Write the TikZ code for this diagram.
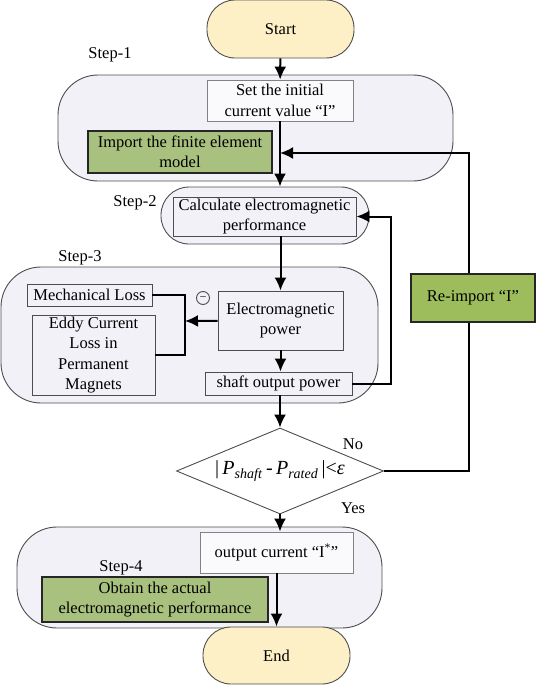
\documentclass[tikz,border=0pt]{standalone}
\usepackage{fontspec}
\setmainfont{Liberation Serif}
\usetikzlibrary{positioning,arrows.meta,calc,shapes.geometric}
\definecolor{termfill}{HTML}{FDF0C6}
\definecolor{groupfill}{HTML}{F2F1F8}
\definecolor{keyfill}{HTML}{A9C17E}
\definecolor{loopfill}{HTML}{9DBD5C}
\definecolor{edge}{HTML}{4D4D4D}
\tikzset{
    x=1pt,
    y=-1pt,
    font=\fontsize{16.5}{20.5}\selectfont,
    group/.style = {
        draw=edge,
        fill=groupfill,
        line width=0.9pt,
        rounded corners=40pt
    },
    block/.style = {
        draw=edge,
        fill=groupfill,
        shape=rectangle,
        align=center,
        inner sep=0pt,
        line width=0.9pt
    },
    light/.style = {
        block,
        draw=edge!70,
        fill=white!60!groupfill
    },
    keybox/.style = {
        block,
        draw=black!85,
        fill=keyfill,
        line width=1.6pt
    },
    terminal/.style = {
        block,
        fill=termfill,
        rounded corners=28pt
    },
    decision/.style = {
        draw=edge,
        fill=white,
        shape=diamond,
        inner sep=0pt,
        line width=0.9pt
    },
    steplabel/.style = {
        inner sep=0pt
    },
    link/.style = {
        draw,
        line width=2pt
    },
    >={Latex[length=13pt,width=12pt]},
}

\begin{document}
\begin{tikzpicture}
                \useasboundingbox (0,0) rectangle (536,685);

                \node[group, minimum width=395, minimum height=106] (step1) at (255.5,128) {};
                \node[group, rounded corners=28pt, minimum width=208, minimum height=57] (step2) at (265,215.5) {};
                \node[group, minimum width=377, minimum height=136] (step3) at (189.5,335) {};
                \node[group, minimum width=365, minimum height=101] (step4) at (199.5,577.5) {};

                \node[steplabel] (step1lbl) at (110,55) {Step-1};
                \node[steplabel] (step2lbl) at (135,203) {Step-2};
                \node[steplabel] (step3lbl) at (80,258) {Step-3};
                \node[steplabel] (step4lbl) at (121,568) {Step-4};

                \node[terminal, minimum width=147, minimum height=58] (start) at (280.5,29) {Start};
                \node[light, minimum width=146, minimum height=41] (seti) at (280,100.5) {Set the initial\\current value “I”};
                \node[keybox, minimum width=184, minimum height=42] (import) at (180,152) {Import the finite element\\model};
                \node[block, minimum width=183, minimum height=39] (calc) at (264.5,216.5) {Calculate electromagnetic\\performance};
                \node[block, minimum width=125, minimum height=22] (mech) at (89.5,295) {Mechanical Loss};
                \node[block, minimum width=123, minimum height=80] (eddy) at (93.5,355) {Eddy Current\\Loss in\\Permanent\\Magnets};
                \node[draw=edge, shape=circle, minimum size=13, inner sep=0pt, line width=0.9pt,
                font=\fontsize{11}{11}\selectfont] (minus) at (203,298) {–};
                \node[block, minimum width=125, minimum height=59] (emp) at (280.5,320.5) {Electromagnetic\\power};
                \node[block, minimum width=147, minimum height=23] (shaft) at (278.5,383.5) {shaft output power};
                \node[decision, minimum width=207, minimum height=86,
                label={center:{\fontsize{20}{22}\selectfont |\,\textit{P}\textsubscript{\textit{shaft}}\,-\,\textit{P}\textsubscript{\textit{rated}}\,|<\textit{ε}}}]
                (dec) at (280,471) {};
                \node[steplabel] (no) at (353,444) {No};
                \node[steplabel] (yes) at (353,508) {Yes};
                \node[light, minimum width=153, minimum height=41] (out) at (276.5,552.5) {output current “I\textsuperscript{*}”};
                \node[keybox, minimum width=226, minimum height=45] (obtain) at (155,599.5) {Obtain the actual\\electromagnetic performance};

                \coordinate (sum) at (185,321);
                \coordinate (loop) at (391,300);
                \coordinate (backturn) at (469,153);

                \path[link, ->] (start) -- (seti);
                \path[link, ->] (seti) -- (seti.south |- step2.north);
                \path[link, ->] (calc.south -| emp) -- (emp);
                \path[link] (mech) -| (sum) |- (eddy);
                \path[link, ->] (emp) -- (sum);
                \path[link, ->] (emp) -- (emp.south |- shaft.north);
                \path[link, ->] (shaft) -| (loop) |- (calc);
                \path[link, ->] (shaft.south -| dec) -- (dec);
                \path[link, ->] (dec) -- (dec.south |- out.north);
                \path[link, ->] (dec) -| (backturn) -- (seti.south |- backturn);

                \node[keybox, fill=loopfill, minimum width=124, minimum height=48] (reimport) at (473,298) {Re-import “I”};
                \node[terminal, minimum width=147, minimum height=57] (end) at (276.5,655.5) {End};
                \path[link, ->] (out.south) -- (out.south |- end.north);
\end{tikzpicture}
\end{document}
